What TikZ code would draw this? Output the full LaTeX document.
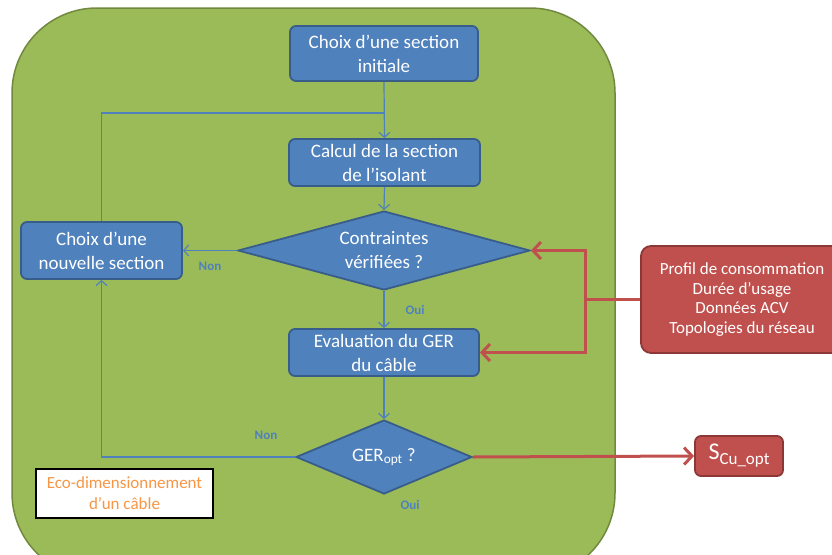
\documentclass[tikz,border=0pt]{standalone}
\usepackage{fontspec}
\setmainfont{Carlito}
\usetikzlibrary{shapes.geometric,arrows.meta}
\definecolor{gfill}{HTML}{9BBB59}
\definecolor{gline}{HTML}{71893F}
\definecolor{bfill}{HTML}{4F81BD}
\definecolor{bline}{HTML}{385D8A}
\definecolor{rfill}{HTML}{C0504D}
\definecolor{rline}{HTML}{8C3836}
\definecolor{orng}{HTML}{F79646}
\begin{document}
\begin{tikzpicture}[x=1pt,y=-1pt,
  bbox/.style={draw=bline, line width=1.8pt, fill=bfill, rounded corners=6pt, text=white,
    font=\fontsize{19}{24}\selectfont, align=center, inner sep=0pt},
  bdia/.style={diamond, draw=bline, line width=1.8pt, fill=bfill, text=white,
    font=\fontsize{19}{24}\selectfont, align=center, inner sep=0pt},
  rbox/.style={draw=rline, line width=1.8pt, fill=rfill, rounded corners=10pt, text=white,
    align=center, inner sep=0pt},
  bl/.style={draw=bfill, line width=1.2pt},
  bla/.style={bl, -{Straight Barb[length=5pt,width=11pt]}},
  rl/.style={draw=rfill, line width=3pt},
  rla/.style={rl, -{Straight Barb[length=8pt,width=17pt]}},
  lbl/.style={text=bfill, font=\fontsize{13}{15}\selectfont\bfseries}
]
\useasboundingbox (0,0) rectangle (832,554);
\clip (0,0) rectangle (832,554);
\path[fill=gfill, draw=gline, line width=1.5pt, rounded corners=85pt] (12,8) rectangle (615,578);

\node[bbox, minimum width=188pt, minimum height=55pt] (b1) at (384,53.5) {Choix d’une section\\initiale};
\node[bbox, minimum width=191pt, minimum height=47pt] (b2) at (384.5,162.5) {Calcul de la section\\de l’isolant};
\node[bdia, shape aspect=3.7, minimum width=292pt, minimum height=79pt] (d1) at (384,250.5) {Contraintes\\vérifiées ?};
\node[bbox, minimum width=190pt, minimum height=47pt] (b3) at (384,352.5) {Evaluation du GER\\du câble};
\node[bdia, shape aspect=2.4, minimum width=176pt, minimum height=74pt] (d2) at (384,457) {GER\textsubscript{opt} ?};
\node[bbox, minimum width=161pt, minimum height=57pt] (bl) at (101.5,250.5) {Choix d’une\\nouvelle section};
\node[rbox, minimum width=202pt, minimum height=107pt, font=\fontsize{17}{19.5}\selectfont] (rb) at (742,299.5)
  {Profil de consommation\\Durée d’usage\\Données ACV\\Topologies du réseau};
\node[rbox, rounded corners=6pt, minimum width=88pt, minimum height=40pt, font=\fontsize{24}{26}\selectfont] (s) at (739,456)
  {S{\fontsize{17}{19}\selectfont\raisebox{-5pt}{Cu\_opt}}};
\node[draw=black, line width=2.5pt, fill=white, minimum width=177pt, minimum height=49pt, inner sep=0pt,
  text=orng, align=center, font=\fontsize{17}{21}\selectfont] (eco) at (124.5,493.5) {Eco-dimensionnement\\d’un câble};

\coordinate (j) at (384,113);
\coordinate (rj) at (585,299.5);

\draw[bla] (b1.south) -- (b2.north);
\draw[bl] (bl.north) |- (j);
\draw[bla] (b2.south) -- (d1.north);
\draw[bla] (d1.west) -- (bl.east);
\draw[bla] (d1.south) -- (b3.north);
\draw[bla] (b3.south) -- (d2.north);
\draw[bla] (d2.west) -| (bl.south);

\draw[rl] (rb.west) -- (rj);
\draw[rla] (rj) |- (d1.east);
\draw[rla] (rj) |- (b3.east);
\draw[rla] (d2.east) -- (s.west);

\node[lbl] (n1) at (210,266) {Non};
\node[lbl] (o1) at (415,310) {Oui};
\node[lbl] (n2) at (266,435) {Non};
\node[lbl] (o2) at (410,505) {Oui};
\end{tikzpicture}
\end{document}
